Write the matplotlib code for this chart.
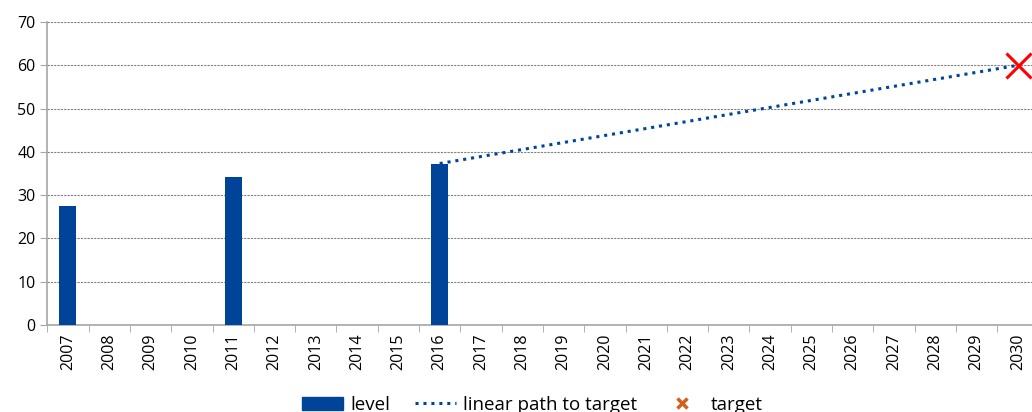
import numpy as np
import matplotlib.pyplot as plt
from matplotlib.patches import Patch
from matplotlib.lines import Line2D

years = list(range(2007, 2031))
level_years = [2007, 2011, 2016]
level_values = [27.5, 34.3, 37.3]
path_years = [2016, 2030]
path_values = [37.3, 60.0]
target_year = 2030
target_value = 60.0

bar_color = '#00449A'
plt.rcParams['font.family'] = ['Open Sans', 'DejaVu Sans']

fig = plt.figure(figsize=(10.32, 4.12), dpi=100)
W, H = 1032, 412
ax = fig.add_axes([47.3 / W, 1 - 325 / H, (1038.6 - 47.3) / W, (325 - 22) / H])

idx = {y: i for i, y in enumerate(years)}
ax.bar([idx[y] for y in level_years], level_values, width=0.41, color=bar_color, zorder=3)
ax.plot([idx[y] for y in path_years], path_values, linestyle=(0, (1, 1.6)),
        color=bar_color, linewidth=2.2, zorder=4)
ax.plot(idx[target_year], target_value, marker='x', color='#FF0000', markersize=18,
        markeredgewidth=2.2, linestyle='none', clip_on=False, zorder=5)

ax.set_xlim(-0.5, len(years) - 0.5)
ax.set_ylim(0, 70)
ax.set_yticks(np.arange(0, 71, 10))
ax.set_xticks(range(len(years)))
ax.set_xticklabels([str(y) for y in years], rotation=90, fontsize=11.5)
ax.set_xticks(np.arange(-0.5, len(years), 1), minor=True)
ax.tick_params(axis='x', which='major', length=0, pad=6)
ax.tick_params(axis='x', which='minor', length=5, color='#A6A6A6')
ax.tick_params(axis='y', length=5, color='#A6A6A6', labelsize=11.5)

ax.yaxis.grid(True, linestyle=(0, (2, 1)), color='#808080', linewidth=0.8)
ax.set_axisbelow(True)
for s in ['top', 'right']:
    ax.spines[s].set_visible(False)
for s in ['left', 'bottom']:
    ax.spines[s].set_color('#A6A6A6')
    ax.spines[s].set_linewidth(1.2)

handles = [
    Patch(color=bar_color, label='level'),
    Line2D([0], [0], linestyle=(0, (1, 1.6)), color=bar_color, linewidth=2.2,
           label='linear path to target'),
    Line2D([0], [0], marker='x', color='#D0601A', markersize=7, markeredgewidth=2.5,
           linestyle='none', label='target'),
]
fig.legend(handles=handles, loc='center', bbox_to_anchor=(532 / W, 1 - 405 / H),
           ncol=3, frameon=False, fontsize=13.5, handlelength=2.2, handleheight=0.7,
           columnspacing=1.3, handletextpad=0.4, borderpad=0)

fig.savefig('out.png', dpi=100)
